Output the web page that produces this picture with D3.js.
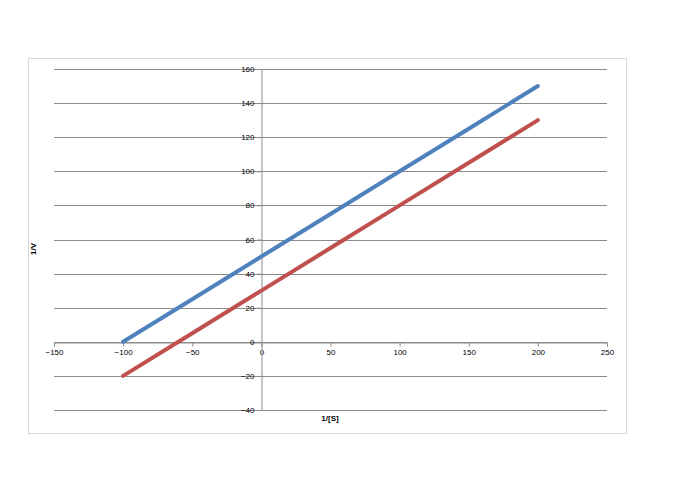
<!DOCTYPE html>
<html><head><meta charset="utf-8">
<script src="https://cdn.jsdelivr.net/npm/d3@7"></script>
<style>body{margin:0;background:#fff}</style>
</head><body>
<svg id="c" width="700" height="500"></svg>
<script>
const xValues = [-100, -50, 0, 50, 100, 150, 200];
const series1 = [0, 25, 50, 75, 100, 125, 150];
const series2 = [-20, 5, 30, 55, 80, 105, 130];
const xTicks = [-150, -100, -50, 0, 50, 100, 150, 200, 250];
const yTicks = [-40, -20, 0, 20, 40, 60, 80, 100, 120, 140, 160];
const xTitle = "1/[S]";
const yTitle = "1/V";

const svg = d3.select("#c");
const font = "'Liberation Sans', Arial, sans-serif";
svg.append("rect").attr("x", 28.5).attr("y", 58.5).attr("width", 598).attr("height", 375)
  .attr("fill", "#fff").attr("stroke", "#d9d9d9").attr("stroke-width", 1);

const x = d3.scaleLinear().domain([-150, 250]).range([54, 607]);
const y = d3.scaleLinear().domain([-40, 160]).range([410, 69]);

// gridlines
svg.append("g").selectAll("line").data(yTicks).join("line")
  .attr("x1", x(-150)).attr("x2", x(250))
  .attr("y1", d => Math.round(y(d)) + 0.5).attr("y2", d => Math.round(y(d)) + 0.5)
  .attr("stroke", "#8c8c8c").attr("stroke-width", 1);

// x axis at y=0
const xa = svg.append("g").attr("transform", `translate(0,${Math.round(y(0)) + 0.5})`)
  .call(d3.axisBottom(x).tickValues(xTicks).tickSize(4).tickPadding(3).tickFormat(d3.format("d")));
xa.select(".domain").attr("stroke", "#8c8c8c");
xa.selectAll(".tick line").attr("stroke", "#8c8c8c");
xa.selectAll(".tick text").attr("font-family", font).attr("font-size", 8).attr("fill", "#000")
  .filter(d => d === 0).attr("dx", 0);

// y axis at x=0
const ya = svg.append("g").attr("transform", `translate(${Math.round(x(0)) + 0.5},0)`)
  .call(d3.axisLeft(y).tickValues(yTicks).tickSize(4).tickPadding(3).tickFormat(d3.format("d")));
ya.select(".domain").attr("stroke", "#8c8c8c");
ya.selectAll(".tick line").attr("stroke", "#8c8c8c");
ya.selectAll(".tick text").attr("font-family", font).attr("font-size", 8).attr("fill", "#000");

const line = d3.line().x((d, i) => x(xValues[i])).y(d => y(d));
svg.append("path").datum(series1).attr("d", line).attr("fill", "none")
  .attr("stroke", "#4F81BD").attr("stroke-width", 4).attr("stroke-linecap", "round");
svg.append("path").datum(series2).attr("d", line).attr("fill", "none")
  .attr("stroke", "#C0504D").attr("stroke-width", 4).attr("stroke-linecap", "round");

svg.append("text").attr("x", 330).attr("y", 421).attr("text-anchor", "middle")
  .attr("font-family", font).attr("font-size", 8).attr("font-weight", "bold").text(xTitle);
svg.append("text").attr("transform", "translate(36,249) rotate(-90)").attr("text-anchor", "middle")
  .attr("font-family", font).attr("font-size", 8).attr("font-weight", "bold").text(yTitle);
</script>
</body></html>
